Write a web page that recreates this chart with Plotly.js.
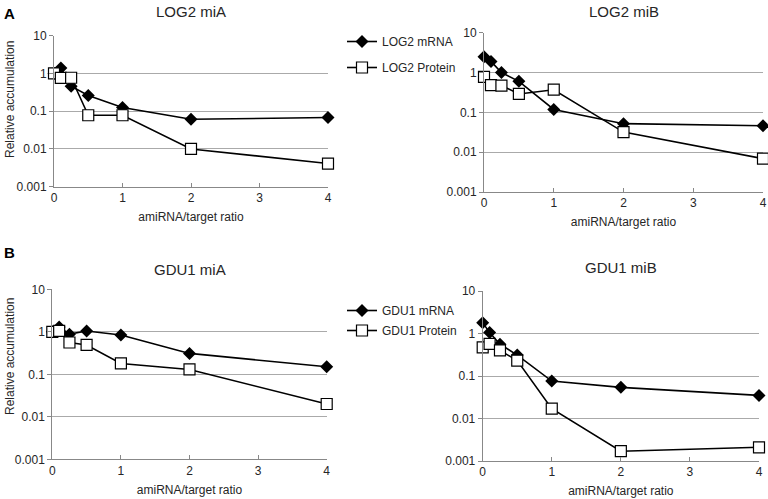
<!DOCTYPE html>
<html>
<head>
<meta charset="utf-8">
<script src="https://cdn.plot.ly/plotly-3.0.1.min.js"></script>
<style>html,body{margin:0;padding:0;background:#fff;}#chart{width:768px;height:499px;}</style>
</head>
<body>
<div id="chart"></div>
<script>
// Data
const ratios = [0, 0.1, 0.25, 0.5, 1, 2, 4];
const log2MiA_mRNA = [1.0, 1.4, 0.46, 0.26, 0.125, 0.061, 0.068];
const log2MiA_protein = [1.0, 0.76, 0.77, 0.078, 0.078, 0.010, 0.0041];
const log2MiB_mRNA = [2.5, 1.9, 1.0, 0.6, 0.118, 0.052, 0.046];
const log2MiB_protein = [0.78, 0.48, 0.47, 0.29, 0.37, 0.032, 0.0069];
const gdu1MiA_mRNA = [1.0, 1.3, 0.88, 1.04, 0.84, 0.31, 0.15];
const gdu1MiA_protein = [1.0, 1.05, 0.56, 0.49, 0.18, 0.13, 0.020];
const gdu1MiB_mRNA = [1.8, 1.05, 0.56, 0.31, 0.076, 0.054, 0.035];
const gdu1MiB_protein = [0.47, 0.57, 0.40, 0.23, 0.017, 0.0017, 0.0021];
const xTicks = [0, 1, 2, 3, 4];
const yTicks = [0.001, 0.01, 0.1, 1, 10];
const yTickText = ['0.001', '0.01', '0.1', '1', '10'];
const titles = ['LOG2 miA', 'LOG2 miB', 'GDU1 miA', 'GDU1 miB'];

const W = 768, H = 499;
const FONT = 'Liberation Sans, Arial, sans-serif';
const TXT = '#262626';
const px = v => v / W;
const py = v => 1 - v / H;

function mrnaTrace(y, name, xa, ya, lg, show) {
  return {x: ratios, y: y, name: name, xaxis: xa, yaxis: ya, legend: lg, legendgroup: name, showlegend: show,
    mode: 'lines+markers', cliponaxis: false,
    line: {color: '#000', width: 1.6},
    marker: {symbol: 'diamond', size: 10, color: '#000'}};
}
function protTrace(y, name, xa, ya, lg, show) {
  return {x: ratios, y: y, name: name, xaxis: xa, yaxis: ya, legend: lg, legendgroup: name, showlegend: show,
    mode: 'lines+markers', cliponaxis: false,
    line: {color: '#000', width: 1.6},
    marker: {symbol: 'square', size: 11, color: '#fff', line: {color: '#000', width: 1.2}}};
}

const data = [
  mrnaTrace(log2MiA_mRNA, 'LOG2 mRNA', 'x', 'y', 'legend', true),
  protTrace(log2MiA_protein, 'LOG2 Protein', 'x', 'y', 'legend', true),
  mrnaTrace(log2MiB_mRNA, 'LOG2 mRNA', 'x2', 'y2', 'legend', false),
  protTrace(log2MiB_protein, 'LOG2 Protein', 'x2', 'y2', 'legend', false),
  mrnaTrace(gdu1MiA_mRNA, 'GDU1 mRNA', 'x3', 'y3', 'legend2', true),
  protTrace(gdu1MiA_protein, 'GDU1 Protein', 'x3', 'y3', 'legend2', true),
  mrnaTrace(gdu1MiB_mRNA, 'GDU1 mRNA', 'x4', 'y4', 'legend2', false),
  protTrace(gdu1MiB_protein, 'GDU1 Protein', 'x4', 'y4', 'legend2', false)
];

const boxes = [
  {x0: 54, x1: 328, y0: 35.7, y1: 186.7},
  {x0: 484, x1: 763, y0: 32.7, y1: 192},
  {x0: 52.3, x1: 326.7, y0: 289.3, y1: 459.3},
  {x0: 482.7, x1: 759, y0: 291, y1: 461}
];

function xAxis(b, anchor) {
  return {domain: [px(b.x0), px(b.x1)], anchor: anchor, range: [0, 4],
    tickmode: 'array', tickvals: xTicks, ticks: 'inside', ticklen: 4, tickcolor: '#888',
    showline: true, linecolor: '#888', linewidth: 1, showgrid: false, zeroline: false,
    tickfont: {family: FONT, size: 12, color: TXT},
    title: {text: 'amiRNA/target ratio', font: {family: FONT, size: 12, color: TXT}, standoff: 8}};
}
function yAxis(b, anchor) {
  return {domain: [py(b.y1), py(b.y0)], anchor: anchor, type: 'log', range: [-3, 1],
    tickmode: 'array', tickvals: yTicks, ticktext: yTickText, ticks: 'outside', ticklen: 4, tickcolor: '#888',
    showline: true, linecolor: '#888', linewidth: 1, showgrid: true, gridcolor: '#aaa', gridwidth: 1,
    zeroline: false,
    tickfont: {family: FONT, size: 12, color: TXT}};
}

const annotations = [];
const titleY = [11, 11, 269, 267];
titles.forEach((t, i) => {
  const b = boxes[i];
  annotations.push({text: t, xref: 'paper', yref: 'paper', x: px((b.x0 + b.x1) / 2),
    y: py(titleY[i]), xanchor: 'center', yanchor: 'middle', showarrow: false,
    font: {family: FONT, size: 15, color: TXT}});
});
// y-axis titles (left panels only)
annotations.push({text: 'Relative accumulation', xref: 'paper', yref: 'paper', x: px(10), y: py(100),
  xanchor: 'center', yanchor: 'middle', textangle: -90, showarrow: false, font: {family: FONT, size: 12, color: TXT}});
annotations.push({text: 'Relative accumulation', xref: 'paper', yref: 'paper', x: px(10), y: py(357),
  xanchor: 'center', yanchor: 'middle', textangle: -90, showarrow: false, font: {family: FONT, size: 12, color: TXT}});
annotations.push({text: '<b>A</b>', xref: 'paper', yref: 'paper', x: px(2), y: py(13), xanchor: 'left', yanchor: 'middle', showarrow: false, font: {family: FONT, size: 15, color: '#000'}});
annotations.push({text: '<b>B</b>', xref: 'paper', yref: 'paper', x: px(2), y: py(253), xanchor: 'left', yanchor: 'middle', showarrow: false, font: {family: FONT, size: 15, color: '#000'}});

const layout = {
  width: W, height: H, margin: {l: 0, r: 0, t: 0, b: 0},
  paper_bgcolor: '#fff', plot_bgcolor: '#fff',
  font: {family: FONT, size: 12, color: TXT},
  xaxis: xAxis(boxes[0], 'y'), yaxis: yAxis(boxes[0], 'x'),
  xaxis2: xAxis(boxes[1], 'y2'), yaxis2: yAxis(boxes[1], 'x2'),
  xaxis3: xAxis(boxes[2], 'y3'), yaxis3: yAxis(boxes[2], 'x3'),
  xaxis4: xAxis(boxes[3], 'y4'), yaxis4: yAxis(boxes[3], 'x4'),
  legend: {x: px(342), y: py(27), xanchor: 'left', yanchor: 'top', bgcolor: 'rgba(0,0,0,0)',
    font: {family: FONT, size: 12, color: TXT}, tracegroupgap: 7},
  legend2: {x: px(342), y: py(296), xanchor: 'left', yanchor: 'top', bgcolor: 'rgba(0,0,0,0)',
    font: {family: FONT, size: 12, color: TXT}, tracegroupgap: 1},
  annotations: annotations
};

Plotly.newPlot('chart', data, layout, {displayModeBar: false, staticPlot: true});
</script>
</body>
</html>
